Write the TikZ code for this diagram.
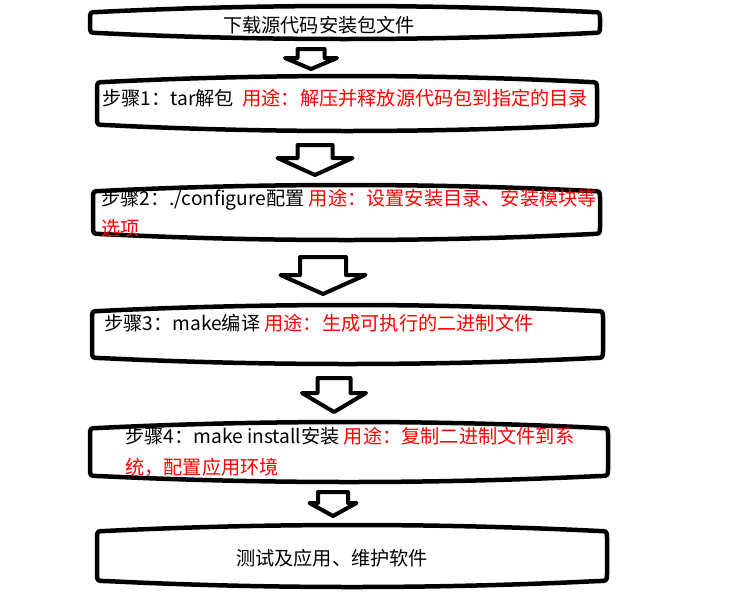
\documentclass[tikz,border=0pt]{standalone}
\usepackage{fontspec}
\setmainfont{Noto Sans CJK SC}
\usepackage{xcolor}
\definecolor{usered}{HTML}{FF0000}
\usetikzlibrary{calc}

\begin{document}
\begin{tikzpicture}[
  x=1pt, y=-1pt,
  every node/.style={font=\fontsize{19.2}{30.5}\selectfont},
  frameline/.style={draw=black, line width=4.5pt, line join=round},
  arrowline/.style={draw=black, fill=white, line width=4pt, line join=round},
  steptext/.style={anchor=west, align=left, inner sep=0pt},
  usetext/.style={text=usered}
]
  \useasboundingbox (0,0) rectangle (730,600);
  \def\bulge{6}
  \def\crad{8}

  % left, top, right, bottom (pixels, y down)
  \def\stepframe#1#2#3#4{%
    \draw[frameline]
      (#1,{#2+\bulge+\crad}) .. controls (#1,{#2+\bulge}) .. ({#1+\crad},{#2+\bulge})
      .. controls ({#1+(#3-#1)/3},{#2-\bulge/3}) and ({#3-(#3-#1)/3},{#2-\bulge/3}) .. ({#3-\crad},{#2+\bulge})
      .. controls (#3,{#2+\bulge}) .. (#3,{#2+\bulge+\crad})
      -- (#3,{#4-\bulge-\crad})
      .. controls (#3,{#4-\bulge}) .. ({#3-\crad},{#4-\bulge})
      .. controls ({#3-(#3-#1)/3},{#4+\bulge/3}) and ({#1+(#3-#1)/3},{#4+\bulge/3}) .. ({#1+\crad},{#4-\bulge})
      .. controls (#1,{#4-\bulge}) .. (#1,{#4-\bulge-\crad})
      -- cycle;
  }
  % centre x, top, shaft width, head width, head base, tip
  \def\downblock#1#2#3#4#5#6{%
    \draw[arrowline]
      ({#1-#3/2},#2) -- ({#1+#3/2},#2) -- ({#1+#3/2},#5) -- ({#1+#4/2},#5)
      -- (#1,#6) -- ({#1-#4/2},#5) -- ({#1-#3/2},#5) -- cycle;
  }

  \stepframe{90}{6}{600}{39}
  \stepframe{97}{76}{597}{131}
  \stepframe{93}{185}{600}{240}
  \stepframe{92}{305}{603}{364}
  \stepframe{90}{422}{608}{482}
  \stepframe{97}{525}{607}{587}

  \downblock{311}{49}{27}{52}{58}{69}
  \downblock{315}{145}{35}{75}{158}{175}
  \downblock{323}{257}{46}{85}{275}{294}
  \downblock{334}{378}{33}{64}{393}{412}
  \downblock{333}{492}{30}{47}{503}{516}

  \node (t1) at (319,25) {下载源代码安装包文件};
  \node[steptext] (t2) at (102,98)
    {步骤1：tar解包\ \ \textcolor{usered}{用途：解压并释放源代码包到指定的目录}};
  \node[steptext] (t3) at (101,213)
    {步骤2：./configure配置 \textcolor{usered}{用途：设置安装目录、安装模块等}\\
     \textcolor{usered}{选项}};
  \node[steptext] (t4) at (104,323)
    {步骤3：make编译 \textcolor{usered}{用途：生成可执行的二进制文件}};
  \node[steptext] (t5) at (125,452)
    {步骤4：make install安装 \textcolor{usered}{用途：复制二进制文件到系}\\
     \textcolor{usered}{统，配置应用环境}};
  \node (t6) at (332,558) {测试及应用、维护软件};
\end{tikzpicture}
\end{document}
